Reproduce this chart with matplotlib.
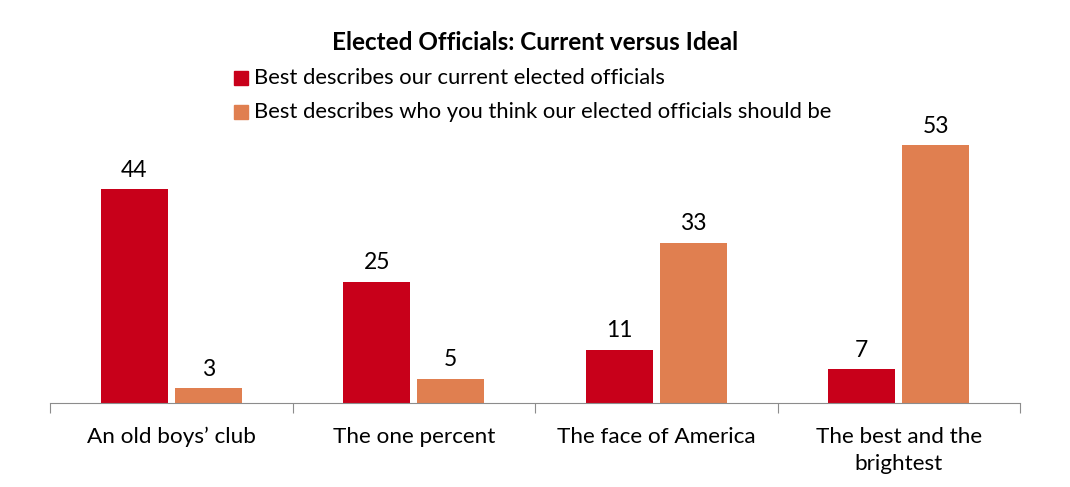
import matplotlib
matplotlib.use("Agg")
import matplotlib.pyplot as plt
import numpy as np
from matplotlib.patches import Rectangle

plt.rcParams["font.family"] = ["Lato", "DejaVu Sans"]

categories = ["An old boys\u2019 club", "The one percent", "The face of America", "The best and the\nbrightest"]
current = [44, 25, 11, 7]
ideal = [3, 5, 33, 53]
series_names = ["Best describes our current elected officials",
                "Best describes who you think our elected officials should be"]
colors = ["#C8001A", "#E07F50"]

fig = plt.figure(figsize=(10.7, 4.87), dpi=100)
W, H = 1070, 487
# axes: x from 50 to 1020 px, baseline at y=403 px, top at y=100 px
ax = fig.add_axes([50 / W, (H - 403) / H, 970 / W, 303 / H])

x = np.arange(len(categories))
w = 0.276
gap = 0.015
b1 = ax.bar(x - w / 2 - gap, current, w, color=colors[0])
b2 = ax.bar(x + w / 2 + gap, ideal, w, color=colors[1])

for bars in (b1, b2):
    for r in bars:
        ax.annotate(f"{r.get_height():g}", (r.get_x() + r.get_width() / 2, r.get_height()),
                    xytext=(0, 6), textcoords="offset points", ha="center", va="bottom",
                    fontsize=16.5)

ax.set_xlim(-0.5, len(categories) - 0.5)
ax.set_ylim(0, 303 / 4.86)
for s in ["top", "right", "left"]:
    ax.spines[s].set_visible(False)
ax.spines["bottom"].set_color("#8C8C8C")
ax.set_yticks([])
ax.set_xticks(np.arange(len(categories) + 1) - 0.5)
ax.set_xticklabels([])
ax.tick_params(axis="x", length=7, color="#8C8C8C")
for i, c in enumerate(categories):
    ax.text(i, -0.078, c, transform=ax.get_xaxis_transform(), ha="center", va="top",
            fontsize=16.2, linespacing=1.45)

fig.text(535 / W, 1 - 42 / H, "Elected Officials: Current versus Ideal", ha="center", va="center",
         fontsize=17.5, fontweight="bold")
for k, (name, col) in enumerate(zip(series_names, colors)):
    yc = 78 + k * 34
    fig.patches.append(Rectangle((234 / W, 1 - (yc + 7) / H), 14 / W, 14 / H,
                                 transform=fig.transFigure, color=col))
    fig.text(254 / W, 1 - yc / H, name, ha="left", va="center", fontsize=15.8)

fig.savefig("out.png", dpi=100)
